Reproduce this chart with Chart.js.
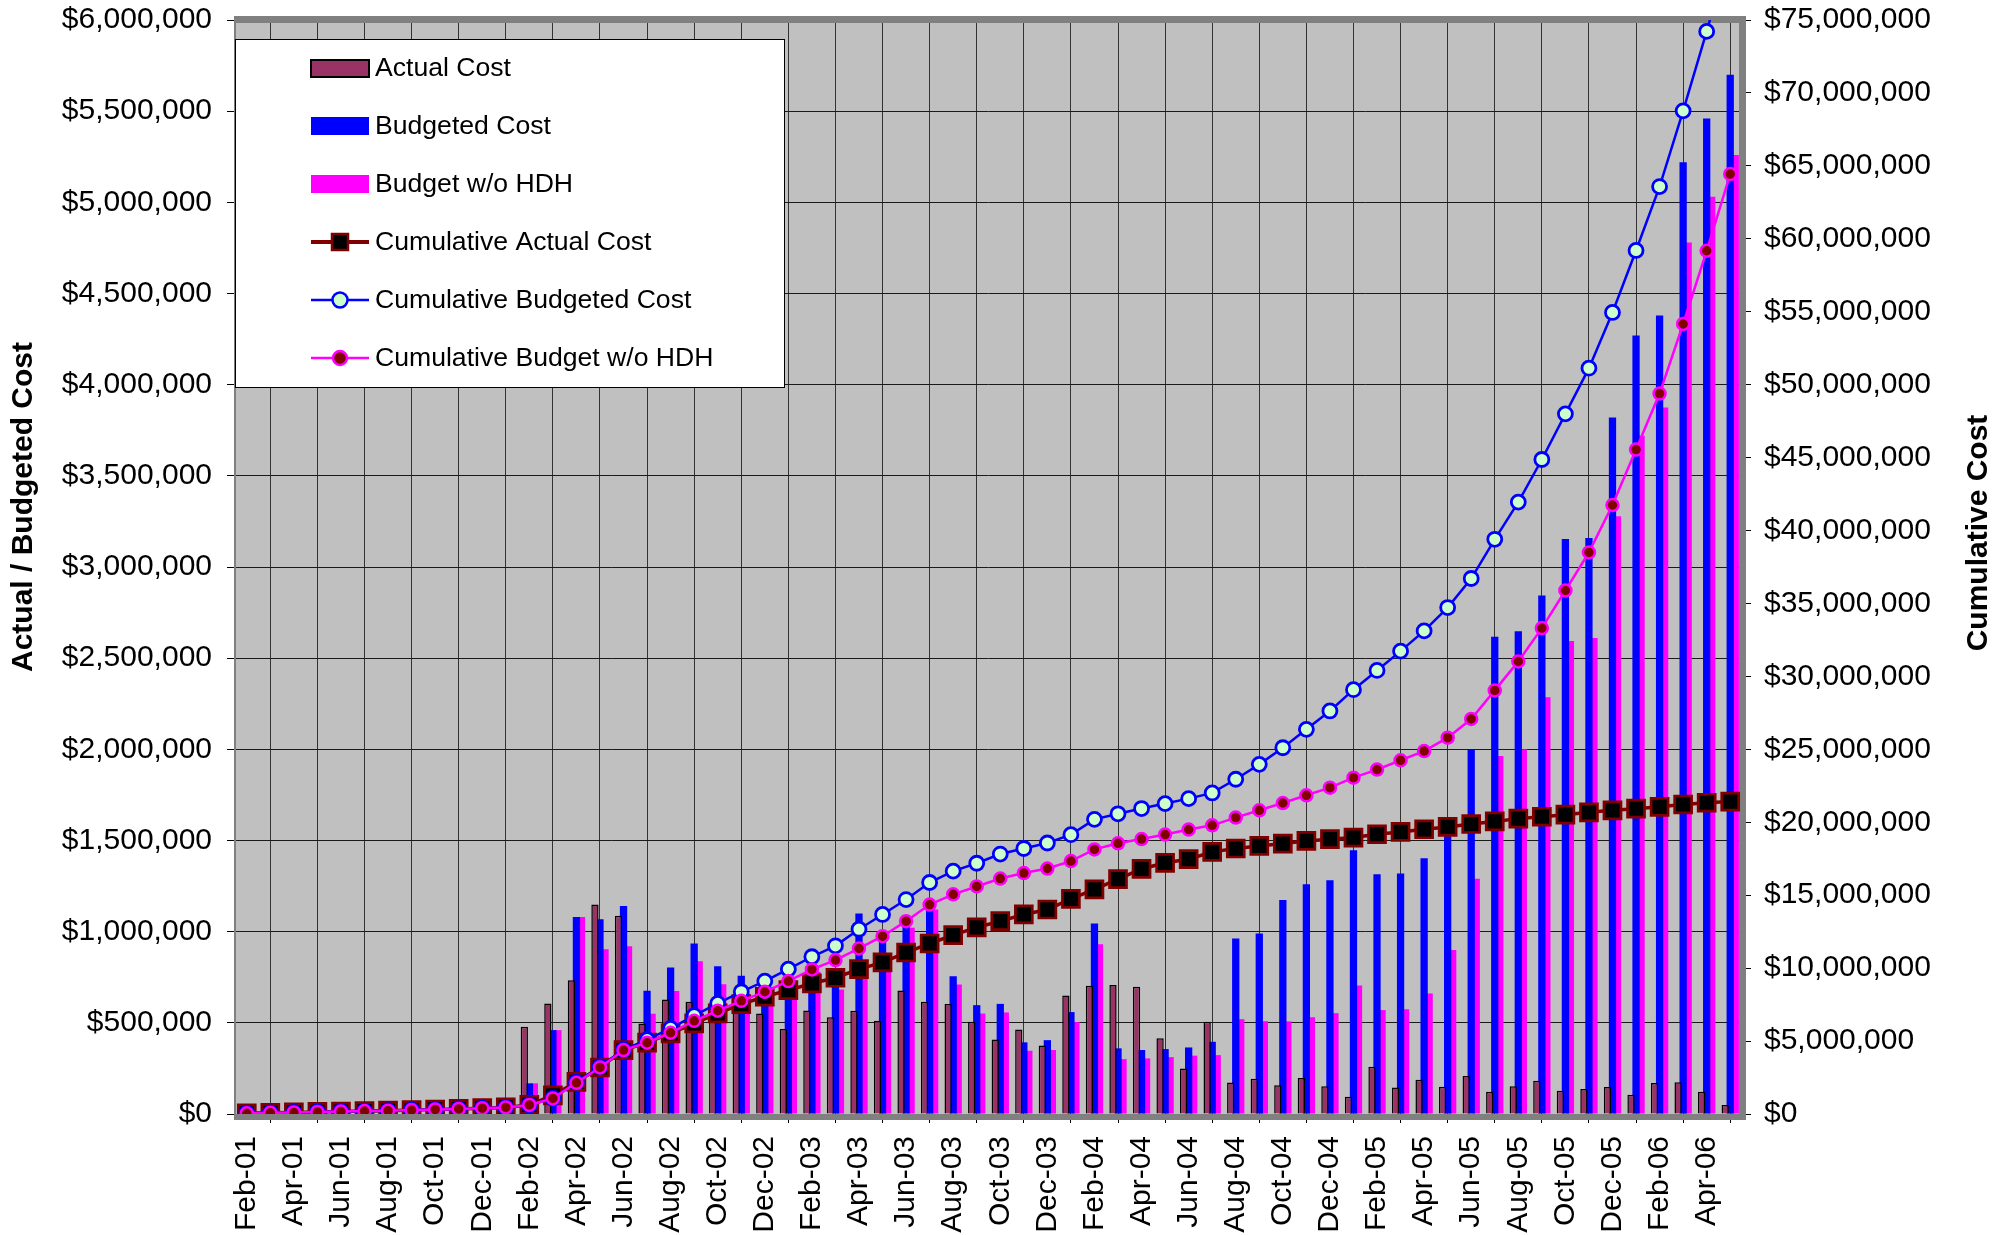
<!DOCTYPE html>
<html>
<head>
<meta charset="utf-8">
<title>Actual / Budgeted Cost</title>
<script src="https://cdn.jsdelivr.net/npm/chart.js@4.4.1/dist/chart.umd.min.js"></script>
<style>
  html, body { margin: 0; padding: 0; background: #fff; }
  #wrap { width: 2015px; height: 1235px; }
</style>
</head>
<body>
<div id="wrap"><canvas id="cost-chart" width="2015" height="1235"></canvas></div>
<script>
var FONT = "'Liberation Sans', Arial, sans-serif";

// months on the category axis (Feb-01 .. May-06)
var months = [
    'Feb-01', 'Mar-01', 'Apr-01', 'May-01', 'Jun-01', 'Jul-01', 'Aug-01', 'Sep-01', 'Oct-01', 'Nov-01', 'Dec-01',
    'Jan-02', 'Feb-02', 'Mar-02', 'Apr-02', 'May-02', 'Jun-02', 'Jul-02', 'Aug-02', 'Sep-02', 'Oct-02', 'Nov-02', 'Dec-02',
    'Jan-03', 'Feb-03', 'Mar-03', 'Apr-03', 'May-03', 'Jun-03', 'Jul-03', 'Aug-03', 'Sep-03', 'Oct-03', 'Nov-03', 'Dec-03',
    'Jan-04', 'Feb-04', 'Mar-04', 'Apr-04', 'May-04', 'Jun-04', 'Jul-04', 'Aug-04', 'Sep-04', 'Oct-04', 'Nov-04', 'Dec-04',
    'Jan-05', 'Feb-05', 'Mar-05', 'Apr-05', 'May-05', 'Jun-05', 'Jul-05', 'Aug-05', 'Sep-05', 'Oct-05', 'Nov-05', 'Dec-05',
    'Jan-06', 'Feb-06', 'Mar-06', 'Apr-06', 'May-06'
];

// monthly values, dollars (left axis)
var actualCost = [
    40000, 35000, 30000, 30000, 35000, 35000, 40000, 45000, 40000, 45000, 50000,
    60000, 478000, 606000, 734000, 1149000, 1087000, 497000, 628000, 615000, 600000, 580000, 551000,
    466000, 568000, 530000, 566000, 511000, 677000, 615000, 603000, 506000, 409000, 464000, 376000,
    650000, 703000, 707000, 698000, 415000, 250000, 506000, 173000, 194000, 157000, 197000, 152000,
    95000, 259000, 146000, 188000, 150000, 209000, 122000, 152000, 183000, 128000, 137000, 148000,
    106000, 170000, 174000, 122000, 50000
];
var budgetedCost = [
    40000, 35000, 30000, 30000, 35000, 35000, 40000, 45000, 40000, 45000, 50000,
    80000, 168000, 460000, 1081000, 1068000, 1141000, 676000, 803000, 935000, 811000, 758000, 730000,
    820000, 850000, 750000, 1099000, 1000000, 1090000, 1170000, 756000, 597000, 604000, 393000, 405000,
    559000, 1045000, 360000, 351000, 356000, 365000, 396000, 962000, 990000, 1174000, 1260000, 1282000,
    1447000, 1315000, 1319000, 1403000, 1580000, 2000000, 2617000, 2648000, 2844000, 3154000, 3159000, 3820000,
    4270000, 4380000, 5220000, 5460000, 5700000
];
var budgetNoHdh = [
    40000, 35000, 30000, 30000, 35000, 35000, 40000, 45000, 40000, 45000, 50000,
    80000, 168000, 460000, 1081000, 904000, 920000, 550000, 674000, 838000, 712000, 660000, 620000,
    720000, 780000, 683000, 780000, 840000, 1022000, 1121000, 710000, 551000, 557000, 347000, 351000,
    504000, 931000, 301000, 305000, 312000, 320000, 323000, 520000, 509000, 508000, 531000, 553000,
    705000, 570000, 575000, 661000, 900000, 1290000, 1963000, 2000000, 2285000, 2594000, 2611000, 3278000,
    3720000, 3875000, 4780000, 5030000, 5260000
];

// cumulative values, millions of dollars (right axis)
var cumActual = [
    0.05, 0.08, 0.11, 0.14, 0.17, 0.20, 0.23, 0.27, 0.31, 0.35, 0.40,
    0.45, 0.62, 1.28, 2.20, 3.19, 4.38, 4.89, 5.53, 6.21, 6.90, 7.53, 8.04,
    8.49, 8.95, 9.34, 9.93, 10.39, 11.07, 11.69, 12.26, 12.79, 13.22, 13.68, 14.02,
    14.75, 15.40, 16.10, 16.80, 17.22, 17.47, 17.97, 18.20, 18.38, 18.54, 18.72, 18.84,
    18.95, 19.18, 19.34, 19.52, 19.68, 19.88, 20.06, 20.25, 20.38, 20.52, 20.68, 20.82,
    20.93, 21.06, 21.22, 21.34, 21.42
];
var cumBudgeted = [
    0.05, 0.08, 0.11, 0.14, 0.17, 0.20, 0.23, 0.27, 0.31, 0.35, 0.40,
    0.45, 0.62, 1.08, 2.18, 3.25, 4.40, 5.10, 5.87, 6.74, 7.58, 8.38, 9.11,
    9.93, 10.78, 11.53, 12.67, 13.68, 14.70, 15.87, 16.65, 17.19, 17.82, 18.20, 18.58,
    19.15, 20.20, 20.58, 20.94, 21.28, 21.62, 22.01, 22.95, 23.97, 25.11, 26.37, 27.63,
    29.09, 30.41, 31.73, 33.12, 34.72, 36.71, 39.40, 41.95, 44.87, 48.00, 51.13, 54.95,
    59.20, 63.58, 68.77, 74.22, 79.90
];
var cumNoHdh = [
    0.05, 0.08, 0.11, 0.14, 0.17, 0.20, 0.23, 0.27, 0.31, 0.35, 0.40,
    0.45, 0.62, 1.07, 2.14, 3.19, 4.38, 4.89, 5.57, 6.39, 7.08, 7.76, 8.38,
    9.11, 9.91, 10.55, 11.35, 12.19, 13.22, 14.36, 15.06, 15.60, 16.14, 16.52, 16.83,
    17.34, 18.14, 18.56, 18.85, 19.16, 19.50, 19.79, 20.32, 20.82, 21.32, 21.85, 22.37,
    23.06, 23.61, 24.25, 24.88, 25.80, 27.08, 29.04, 31.03, 33.31, 35.89, 38.50, 41.75,
    45.55, 49.39, 54.16, 59.18, 64.44
];

var seriesNames = ['Actual Cost', 'Budgeted Cost', 'Budget w/o HDH',
                   'Cumulative Actual Cost', 'Cumulative Budgeted Cost', 'Cumulative Budget w/o HDH'];
var leftTitle = 'Actual / Budgeted Cost';
var rightTitle = 'Cumulative Cost';

var COLORS = {
    actual: '#993366',
    budget: '#0000FF',
    noHdh: '#FF00FF',
    darkRed: '#800000',
    paleGreen: '#CCFFCC'
};

function money(v) {
    return '$' + Math.round(v).toLocaleString('en-US');
}

// keep the plot box where the original has it (labels may hang over)
function noScalePadding(scale) {
    scale.paddingTop = 0;
    scale.paddingBottom = 0;
    scale.paddingLeft = 0;
    scale.paddingRight = 0;
}

/**
 * Grey plot wall and the 3D-ish frame round it
 */
var plotFrame = {
    id: 'plotFrame',
    beforeDraw: function(chart) {
        var a = chart.chartArea, ctx = chart.ctx;
        ctx.save();
        ctx.fillStyle = '#C0C0C0';
        ctx.fillRect(a.left, a.top, a.right - a.left, a.bottom - a.top);
        ctx.restore();
    },
    beforeDatasetsDraw: function(chart) {
        var a = chart.chartArea, ctx = chart.ctx;
        ctx.save();
        ctx.fillStyle = '#808080';
        ctx.fillRect(a.left - 1, a.top - 4, a.right - a.left + 5, 7);
        ctx.fillRect(a.right - 3, a.top - 4, 7, a.bottom - a.top + 10);
        ctx.fillRect(a.left - 1, a.bottom, a.right - a.left + 4, 6);
        ctx.fillRect(a.left - 1, a.top, 2, a.bottom - a.top + 6);
        ctx.restore();
    }
};

/**
 * Axis titles, both reading bottom to top
 */
var axisTitles = {
    id: 'axisTitles',
    afterDraw: function(chart) {
        var ctx = chart.ctx;
        function vertical(text, x, y, size) {
            ctx.save();
            ctx.translate(x, y);
            ctx.rotate(-Math.PI / 2);
            ctx.font = 'bold ' + size + 'px ' + FONT;
            ctx.fillStyle = '#000';
            ctx.textAlign = 'center';
            ctx.textBaseline = 'middle';
            ctx.fillText(text, 0, 0);
            ctx.restore();
        }
        vertical(leftTitle, 24, 507, 30);
        vertical(rightTitle, 1979, 533, 30);
    }
};

/**
 * Legend box sitting over the top-left of the plot
 */
var boxLegend = {
    id: 'boxLegend',
    afterDraw: function(chart) {
        var ctx = chart.ctx;
        var x0 = 235.5, y0 = 39.5, w = 549, h = 348;
        var rows = [68, 126, 184, 242, 300, 358];
        var sx = 311, sw = 58, mx = sx + sw / 2;
        ctx.save();
        ctx.fillStyle = '#fff';
        ctx.fillRect(x0, y0, w, h);
        ctx.strokeStyle = '#000';
        ctx.lineWidth = 1;
        ctx.strokeRect(x0, y0, w, h);

        // bar swatches
        ctx.fillStyle = COLORS.actual;
        ctx.fillRect(sx, rows[0] - 8, sw, 17);
        ctx.lineWidth = 2;
        ctx.strokeStyle = '#000';
        ctx.strokeRect(sx, rows[0] - 8, sw, 17);
        ctx.fillStyle = COLORS.budget;
        ctx.fillRect(sx, rows[1] - 9, sw, 18);
        ctx.fillStyle = COLORS.noHdh;
        ctx.fillRect(sx, rows[2] - 9, sw, 18);

        // line swatches
        function line(y, color, width) {
            ctx.beginPath();
            ctx.moveTo(sx, y);
            ctx.lineTo(sx + sw, y);
            ctx.strokeStyle = color;
            ctx.lineWidth = width;
            ctx.stroke();
        }
        line(rows[3], COLORS.darkRed, 4);
        ctx.fillStyle = '#000';
        ctx.fillRect(mx - 8, rows[3] - 8, 16, 16);
        ctx.strokeStyle = COLORS.darkRed;
        ctx.lineWidth = 2.5;
        ctx.strokeRect(mx - 8, rows[3] - 8, 16, 16);

        line(rows[4], COLORS.budget, 2.5);
        ctx.beginPath();
        ctx.arc(mx, rows[4], 7.5, 0, Math.PI * 2);
        ctx.fillStyle = COLORS.paleGreen;
        ctx.fill();
        ctx.strokeStyle = COLORS.budget;
        ctx.lineWidth = 2.5;
        ctx.stroke();

        line(rows[5], COLORS.noHdh, 2.5);
        ctx.beginPath();
        ctx.arc(mx, rows[5], 7, 0, Math.PI * 2);
        ctx.fillStyle = COLORS.darkRed;
        ctx.fill();
        ctx.strokeStyle = COLORS.noHdh;
        ctx.lineWidth = 2.5;
        ctx.stroke();

        // labels
        ctx.fillStyle = '#000';
        ctx.font = '26.6px ' + FONT;
        ctx.textAlign = 'left';
        ctx.textBaseline = 'middle';
        for (var i = 0; i < seriesNames.length; i++) {
            ctx.fillText(seriesNames[i], 375, rows[i] + 1);
        }
        ctx.restore();
    }
};

var tickFont = { family: FONT, size: 30 };

var costChart = new Chart(document.getElementById('cost-chart'), {
    type: 'bar',
    data: {
        labels: months,
        datasets: [{
            type: 'line',
            label: seriesNames[5],
            data: cumNoHdh,
            yAxisID: 'y2',
            order: 1,
            borderColor: COLORS.noHdh,
            borderWidth: 2.5,
            tension: 0,
            pointStyle: 'circle',
            pointRadius: 6,
            pointBorderWidth: 2.5,
            pointBackgroundColor: COLORS.darkRed,
            pointBorderColor: COLORS.noHdh
        }, {
            type: 'line',
            label: seriesNames[4],
            data: cumBudgeted,
            yAxisID: 'y2',
            order: 2,
            borderColor: COLORS.budget,
            borderWidth: 2.5,
            tension: 0,
            pointStyle: 'circle',
            pointRadius: 7,
            pointBorderWidth: 2.8,
            pointBackgroundColor: COLORS.paleGreen,
            pointBorderColor: COLORS.budget
        }, {
            type: 'line',
            label: seriesNames[3],
            data: cumActual,
            yAxisID: 'y2',
            order: 3,
            borderColor: COLORS.darkRed,
            borderWidth: 3.5,
            tension: 0,
            pointStyle: 'rect',
            pointRadius: 12,
            pointBorderWidth: 2.7,
            pointBackgroundColor: '#000',
            pointBorderColor: COLORS.darkRed
        }, {
            label: seriesNames[0],
            data: actualCost,
            yAxisID: 'y',
            order: 4,
            backgroundColor: COLORS.actual,
            borderColor: '#000',
            borderWidth: 1.5
        }, {
            label: seriesNames[1],
            data: budgetedCost,
            yAxisID: 'y',
            order: 5,
            backgroundColor: COLORS.budget,
            borderWidth: 0
        }, {
            label: seriesNames[2],
            data: budgetNoHdh,
            yAxisID: 'y',
            order: 6,
            backgroundColor: COLORS.noHdh,
            borderWidth: 0
        }]
    },
    options: {
        responsive: false,
        animation: false,
        devicePixelRatio: 1,
        // bars a bit wider than their slot so neighbours overlap, as in the original
        categoryPercentage: 0.64,
        barPercentage: 1.45,
        layout: { padding: { top: 20, left: 0, right: 0, bottom: 0 } },
        plugins: {
            legend: { display: false },
            tooltip: { enabled: false }
        },
        scales: {
            x: {
                offset: true,
                grid: { offset: true, color: '#333', lineWidth: 1, tickLength: 9, tickColor: '#000' },
                border: { display: false },
                ticks: {
                    autoSkip: false,
                    maxRotation: 90,
                    minRotation: 90,
                    padding: 13,
                    color: '#000',
                    font: tickFont,
                    callback: function(value, index) {
                        return index % 2 === 0 ? this.getLabelForValue(value) : null;
                    }
                },
                afterFit: function(scale) {
                    noScalePadding(scale);
                    scale.height = 121;
                }
            },
            y: {
                position: 'left',
                min: 0,
                max: 6000000,
                grid: { color: '#1a1a1a', lineWidth: 1, tickLength: 8, tickColor: '#000' },
                border: { display: false },
                ticks: {
                    stepSize: 500000,
                    padding: 15,
                    color: '#000',
                    font: tickFont,
                    callback: function(v) { return money(v); }
                },
                afterFit: function(scale) {
                    noScalePadding(scale);
                    scale.width = 235;
                }
            },
            y2: {
                position: 'right',
                min: 0,
                max: 75,
                grid: { drawOnChartArea: false, tickLength: 9, tickColor: '#000' },
                border: { display: false },
                ticks: {
                    stepSize: 5,
                    padding: 13,
                    color: '#000',
                    font: tickFont,
                    callback: function(v) { return money(v * 1000000); }
                },
                afterFit: function(scale) {
                    noScalePadding(scale);
                    scale.width = 273;
                }
            }
        }
    },
    plugins: [plotFrame, axisTitles, boxLegend]
});
</script>
</body>
</html>
